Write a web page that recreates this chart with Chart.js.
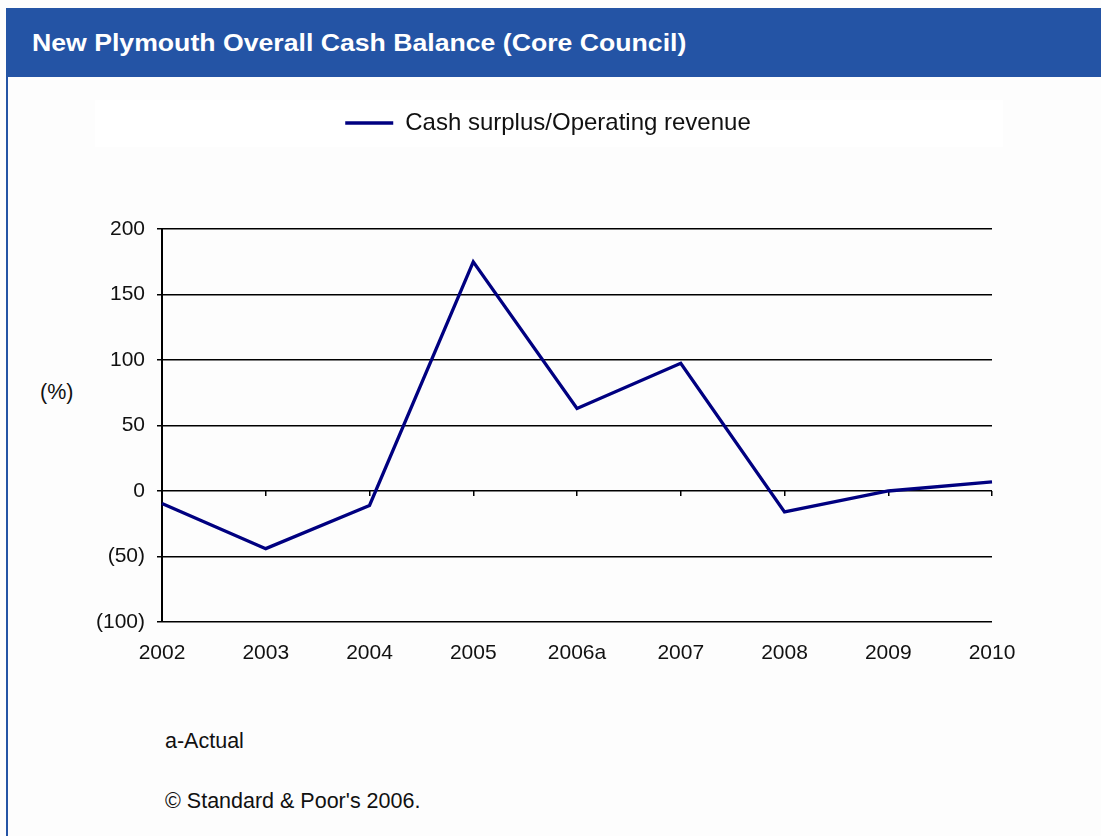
<!DOCTYPE html>
<html>
<head>
<meta charset="utf-8">
<script src="https://cdn.jsdelivr.net/npm/chart.js@4.4.0/dist/chart.umd.min.js"></script>
<style>
  body {
    margin: 0;
    width: 1101px;
    height: 836px;
    background: #fdfdfd;
    position: relative;
    overflow: hidden;
    font-family: "Liberation Sans", Arial, sans-serif;
  }
  .header {
    position: absolute;
    left: 6px;
    top: 8px;
    width: 1095px;
    height: 69px;
    background: #2454a5;
  }
  .header span {
    position: absolute;
    left: 26px;
    top: 23px;
    color: #fff;
    font-weight: bold;
    font-size: 24px;
    line-height: 1;
    white-space: nowrap;
    transform: scaleX(1.11);
    transform-origin: left top;
  }
  .leftborder {
    position: absolute;
    left: 6px;
    top: 77px;
    width: 2px;
    height: 759px;
    background: #2454a5;
  }
  .legendbox {
    position: absolute;
    left: 95px;
    top: 100px;
    width: 908px;
    height: 47px;
    background: #fff;
  }
  #wrap {
    position: absolute;
    left: 10px;
    top: 101px;
    width: 1080px;
    height: 580px;
  }
  .txt {
    position: absolute;
    font-size: 21.5px;
    line-height: 1;
    color: #111;
    white-space: nowrap;
  }
</style>
</head>
<body>
<div class="header"><span>New Plymouth Overall Cash Balance (Core Council)</span></div>
<div class="leftborder"></div>
<div class="legendbox"></div>
<div class="txt" style="left:40px; top:382px;">(%)</div>
<div id="wrap"><canvas id="chart" width="1080" height="580"></canvas></div>
<div class="txt" style="left:165px; top:731px;">a-Actual</div>
<div class="txt" style="left:165px; top:791px;">© Standard &amp; Poor's 2006.</div>

<script>
const years = ['2002', '2003', '2004', '2005', '2006a', '2007', '2008', '2009', '2010'];
const cashSurplusPct = [-9.5, -44, -11, 175, 63, 97.5, -16, 0, 7];
const seriesLabel = 'Cash surplus/Operating revenue';
const yMin = -100;
const yMax = 200;
const yStep = 50;

const fontFamily = '"Liberation Sans", Arial, sans-serif';

// legend: extra room below it, and nudged right to sit centred in its box
const legendPlacement = {
  id: 'legendPlacement',
  afterInit(chart) {
    const fitLegend = chart.legend.fit;
    chart.legend.fit = function () {
      fitLegend.call(this);
      this.height += 84;
    };
  },
  afterLayout(chart) {
    chart.legend.left += 6;
    chart.legend.right += 6;
  },
};

const ctx = document.getElementById('chart').getContext('2d');
const chart = new Chart(ctx, {
  type: 'line',
  data: {
    labels: years,
    datasets: [
      {
        label: seriesLabel,
        data: cashSurplusPct,
        borderColor: '#000080',
        backgroundColor: '#000080',
        borderWidth: 3.3,
        pointRadius: 0,
        tension: 0,
        fill: false,
      },
    ],
  },
  options: {
    responsive: false,
    animation: false,
    layout: { padding: { left: 82, right: 98, top: 0, bottom: 13 } },
    plugins: {
      legend: {
        position: 'top',
        labels: {
          usePointStyle: true,
          pointStyle: 'line',
          pointStyleWidth: 48,
          color: '#111',
          padding: 10,
          font: { family: fontFamily, size: 24 },
        },
      },
      tooltip: { enabled: false },
    },
    scales: {
      x: {
        grid: { display: false, tickLength: 0 },
        border: { display: false },
        ticks: {
          color: '#111',
          padding: 19,
          maxRotation: 0,
          autoSkip: false,
          font: { family: fontFamily, size: 21 },
        },
        afterFit: (scale) => {
          scale.height = 46;
        },
      },
      // tick marks sitting on the zero line
      xZero: {
        type: 'category',
        axis: 'x',
        position: { y: 0 },
        grid: { drawOnChartArea: false, tickLength: 5, color: '#000', lineWidth: 1.5 },
        border: { display: false },
        ticks: { display: false },
        afterFit: (scale) => {
          scale.height = 0;
        },
      },
      y: {
        min: yMin,
        max: yMax,
        ticks: {
          stepSize: yStep,
          padding: 12,
          color: '#111',
          font: { family: fontFamily, size: 21 },
          callback: (v) => (v < 0 ? '(' + Math.abs(v) + ')' : String(v)),
        },
        grid: { color: '#000', lineWidth: 1.5, tickLength: 5 },
        border: { color: '#000', width: 2 },
        afterFit: (scale) => {
          scale.width = 70;
        },
      },
    },
  },
  plugins: [legendPlacement],
});
</script>
</body>
</html>
